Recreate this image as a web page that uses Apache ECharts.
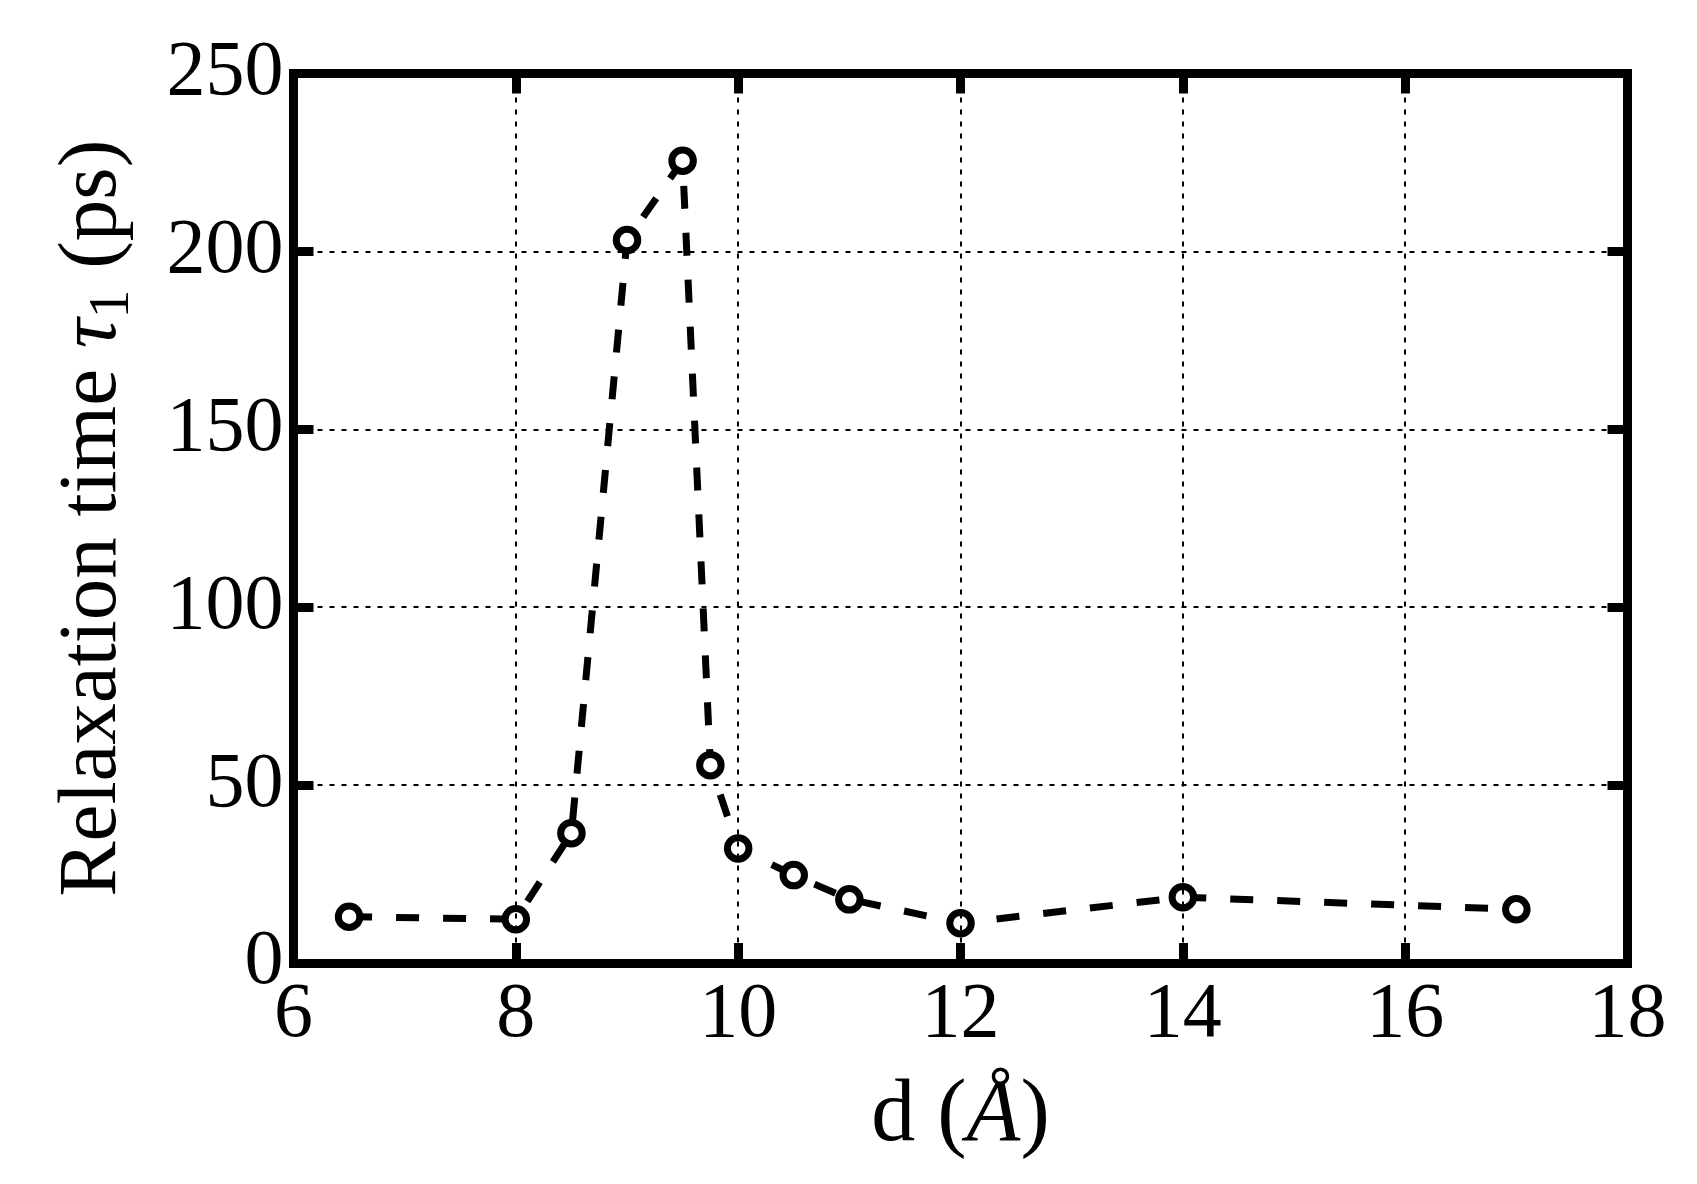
<!DOCTYPE html>
<html>
<head>
<meta charset="utf-8">
<script src="https://cdn.jsdelivr.net/npm/echarts@6/dist/echarts.min.js"></script>
<style>
html,body{margin:0;padding:0;background:#fff;}
#chart{width:1697px;height:1184px;}
</style>
</head>
<body>
<div id="chart"></div>
<script>
const distances = [6.5, 8, 8.5, 9, 9.5, 9.75, 10, 10.5, 11, 12, 14, 17];
const tau1 = [13.0, 12.3, 36.5, 203.2, 225.5, 55.6, 32.2, 24.7, 17.9, 11.2, 18.5, 15.1];
const xTicks = [6, 8, 10, 12, 14, 16, 18];
const yTicks = [0, 50, 100, 150, 200, 250];

const FONT = '"Liberation Serif", "DejaVu Serif", serif';
const tickFont = 78;
const xNameFont = 88;
const yNameFont = 83;

const frameLine = {show: true, onZero: false, lineStyle: {color: '#000', width: 9, cap: 'square'}};
const tick = {show: true, inside: true, length: 20, lineStyle: {color: '#000', width: 9}};
const grid = {show: true, lineStyle: {color: '#000', width: 2, type: [5, 7]}};

const chart = echarts.init(document.getElementById('chart'), null, {renderer: 'canvas'});
chart.setOption({
  backgroundColor: '#fff',
  animation: false,
  grid: {left: 293.5, right: 69.5, top: 73.5, bottom: 221, containLabel: false},
  xAxis: [{
    type: 'value', min: xTicks[0], max: xTicks[xTicks.length - 1], interval: 2,
    position: 'bottom', z: 5,
    axisLine: frameLine, axisTick: tick, splitLine: grid,
    axisLabel: {color: '#000', fontFamily: FONT, fontSize: tickFont, margin: 14},
    name: '{n|d (}{i|Å}{n|)}', nameLocation: 'middle', nameGap: 110,
    nameTextStyle: {rich: {
      n: {fontFamily: FONT, fontSize: xNameFont, color: '#000'},
      i: {fontFamily: FONT, fontSize: xNameFont, fontStyle: 'italic', color: '#000'}
    }}
  }, {
    type: 'value', min: xTicks[0], max: xTicks[xTicks.length - 1], interval: 2,
    position: 'top', z: 5,
    axisLine: frameLine, axisTick: tick, splitLine: {show: false},
    axisLabel: {show: false}
  }],
  yAxis: [{
    type: 'value', min: yTicks[0], max: yTicks[yTicks.length - 1], interval: 50,
    position: 'left', z: 5,
    axisLine: frameLine, axisTick: tick, splitLine: grid,
    axisLabel: {color: '#000', fontFamily: FONT, fontSize: tickFont, margin: 10},
    name: '{n|Relaxation time }{i|τ}{s|1}{n| (ps)}', nameLocation: 'middle', nameGap: 152,
    nameTextStyle: {rich: {
      n: {fontFamily: FONT, fontSize: yNameFont, color: '#000', lineHeight: 96},
      i: {fontFamily: FONT, fontSize: yNameFont, fontStyle: 'italic', color: '#000', lineHeight: 96},
      s: {fontFamily: FONT, fontSize: 58, color: '#000', lineHeight: 66, verticalAlign: 'bottom'}
    }}
  }, {
    type: 'value', min: yTicks[0], max: yTicks[yTicks.length - 1], interval: 50,
    position: 'right', z: 5,
    axisLine: frameLine, axisTick: tick, splitLine: {show: false},
    axisLabel: {show: false}
  }],
  series: [{
    type: 'line',
    xAxisIndex: 0, yAxisIndex: 0,
    data: distances.map((d, i) => [d, tau1[i]]),
    lineStyle: {color: '#000', width: 7, type: [23, 24]},
    symbol: 'circle', symbolSize: 21.5,
    itemStyle: {color: '#fff', borderColor: '#000', borderWidth: 7},
    z: 2
  }]
});
</script>
</body>
</html>
